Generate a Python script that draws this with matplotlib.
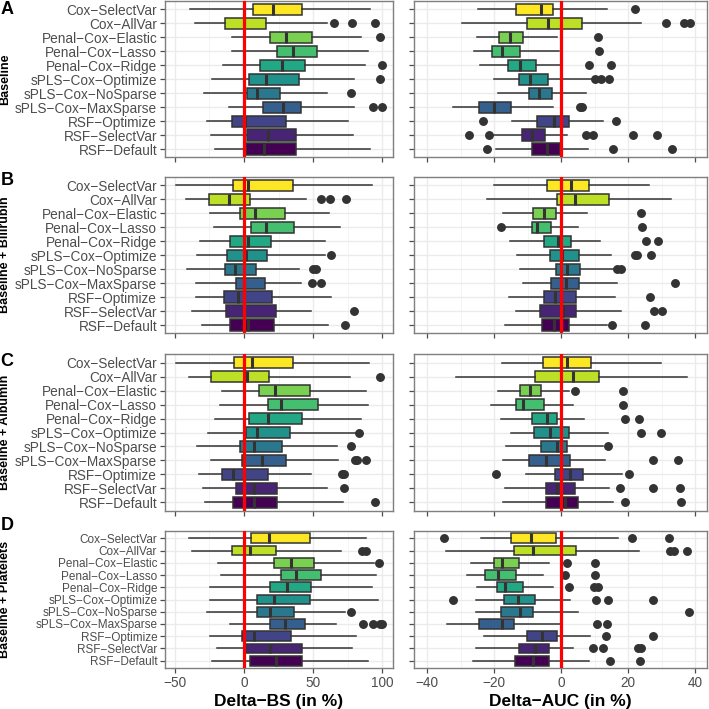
import numpy as np
import matplotlib.pyplot as plt

plt.rcParams['font.family'] = ['Liberation Sans', 'DejaVu Sans']

# methods, top to bottom
methods = ['Cox−SelectVar', 'Cox−AllVar', 'Penal−Cox−Elastic', 'Penal−Cox−Lasso',
           'Penal−Cox−Ridge', 'sPLS−Cox−Optimize', 'sPLS−Cox−NoSparse',
           'sPLS−Cox−MaxSparse', 'RSF−Optimize', 'RSF−SelectVar', 'RSF−Default']
row_titles = ['Baseline', 'Baseline + Bilirubin', 'Baseline + Albumin', 'Baseline + Platelets']
row_letters = ['A', 'B', 'C', 'D']

# box summaries per method: [whisker low, q1, median, q3, whisker high]
bs_baseline = [[-39.4, 6.5, 21, 42.3, 91.5], [-35.7, -13.8, 0.3, 16.2, 59.7],
               [-8.5, 18.6, 30.7, 49.5, 84.5], [-8.7, 24.2, 35.5, 52.9, 89.4],
               [-15.2, 11.6, 27.5, 44.4, 87.2], [-23.4, 3.6, 16.2, 40.1, 79.7],
               [-28.7, 2.4, 9.4, 26.3, 59.7], [-10.9, 13.8, 28.3, 41.5, 79.7],
               [-27, -8.7, 0.5, 30.2, 75.4], [-24.2, 1.9, 17.6, 37.4, 78.5],
               [-21.3, 1.4, 14.5, 37.4, 91]]
bs_baseline_out = [[], [65, 78, 95], [98.6], [], [100.2], [98.3], [77.5], [93, 100.2], [], [], []]

auc_baseline = [[-24.8, -13.6, -6.2, -2.4, 13.5], [-29.8, -10.2, -3.9, 6.3, 23.8],
                [-25.3, -18.6, -15.3, -11.3, -1.4], [-26, -20.6, -17.6, -12.3, -0.6],
                [-24.2, -16, -12.4, -7.7, -0.4], [-20, -12.6, -9.3, -3.9, 9],
                [-19, -9.7, -6.6, -2.7, 7.3], [-32.4, -24.6, -20, -15.1, -2.5],
                [-14.6, -7.4, -2.2, 2.2, 12.5], [-20.3, -11.6, -8.9, -5, 1.8],
                [-19.5, -8.8, -4.3, -0.4, 8.1]]
auc_baseline_out = [[22.1], [31.2, 36.6, 38.4], [10.8], [11.3], [8.2, 14.8], [10, 11.7, 14.3],
                    [], [5.6, 6.3], [-23.3, 16.3], [-27.6, -21.5, 7.5, 9.6, 21.5, 28.5],
                    [-22.3, 15.5, 32.9]]

bs_bilirubin = [[-49.5, -8, 2.9, 35.5, 92.3], [-42.3, -25.6, -10.9, 4.6, 45],
                [-24.4, -2.9, 8.2, 29.5, 61.6], [-22, 5.1, 16.2, 36, 69.8],
                [-32.1, -9.9, 2.9, 19.8, 58.5], [-33.8, -12.1, 1.7, 16.7, 58.5],
                [-41.3, -14, -6.8, 8.9, 39.9], [-35, -5.8, 0.2, 15, 41.5],
                [-35, -14.7, -4.1, 20.5, 62.6], [-37.9, -12.8, -0.3, 23.4, 48.8],
                [-30.4, -10.4, 2.9, 21.7, 61.1]]
bs_bilirubin_out = [[], [56, 62, 73.7], [], [], [], [63], [50, 52.4], [49.3, 55.6], [], [79.5], [72.9]]

auc_bilirubin = [[-20.1, -4.2, 2.8, 8.4, 26.2], [-22.1, -1.4, 4.2, 14.1, 32.6],
                 [-17.3, -8.5, -5.1, -1.7, 7.6], [-16.8, -8.9, -7.2, -3.1, 4.9],
                 [-15.2, -5.2, -0.9, 2.9, 11.5], [-13.2, -3.5, 0.1, 5.2, 14.8],
                 [-12.2, -1.7, 1.7, 5.5, 16], [-11.5, -3, 1.5, 5.4, 16.5],
                 [-15.7, -5.1, -1.8, 4.3, 15.9], [-13.5, -6.5, 0.6, 4.3, 17.8],
                 [-16.8, -5.7, -2.3, 2.3, 13.7]]
auc_bilirubin_out = [[], [], [23.7], [-18, 24.2], [25.2, 29], [22, 22.7, 26.8], [16.6, 17.7],
                     [33.9], [26.5], [27.7, 30], [15.2, 24.9]]

bs_albumin = [[-49.5, -7.2, 6, 35.5, 90.3], [-39.9, -23.9, 2.2, 17.9, 76.8],
              [-15.7, 10.6, 22.2, 47.6, 87.9], [-17.1, 17.4, 27.1, 53.6, 89.4],
              [-21.3, 3.6, 17.4, 42, 85], [-26.3, 1.2, 9.7, 33.1, 81.4],
              [-33.8, -2.9, 7.2, 27.8, 67.4], [-24.2, -1.4, 13.3, 30.7, 68.1],
              [-32.6, -15.7, -8, 17.4, 48.8], [-29.7, -5.6, 7, 23.9, 59.7],
              [-28.5, -8.2, 7, 24.2, 71.7]]
bs_albumin_out = [[], [98.6], [], [], [], [82.9], [77.3], [80.2, 81.9, 88.6], [71.2, 72.2],
                  [72.5], [94.9]]

auc_albumin = [[-17.6, -5.4, 1.6, 8.8, 29.7], [-31.4, -7.8, 3.4, 11.3, 37.4],
               [-18.8, -12.3, -9.3, -6.1, 2.3], [-21, -13.6, -11.3, -5.3, 3.6],
               [-18, -8.9, -4.4, -1.2, 6.8], [-15.1, -8.1, -3.4, 2.4, 14],
               [-16.5, -6.1, -1.4, 1.8, 12.3], [-17.3, -9.7, -4.7, 2.6, 12.9],
               [-10.5, -1.8, 2.7, 6.4, 18], [-16.7, -4.7, -1.2, 4, 14.3],
               [-17.3, -4.6, 1.1, 4.9, 15.3]]
auc_albumin_out = [[], [], [4.1, 18.5], [18.5], [19, 23.2], [23.8, 29.7], [14], [27.5, 34.8],
                   [-19.6, 20.3], [17.5, 27.5, 35.4], [19, 35.8]]

bs_platelets = [[-39.9, 5.3, 18.1, 47.6, 88.6], [-37.4, -8.7, 4.6, 23.4, 70.5],
                [-18.8, 21.5, 34.3, 50.7, 94], [-16.9, 26.6, 37.4, 55.6, 95.4],
                [-24.9, 18.6, 31.4, 48.8, 92.3], [-24.4, 9.2, 21.5, 47.6, 97.1],
                [-26.6, 9.7, 19.1, 36.2, 73], [-10.4, 19.1, 29.5, 44, 66.4],
                [-24.9, -1.4, 7.5, 34.3, 80.9], [-19.6, 1.2, 18.6, 42, 78.3],
                [-23.2, 4.1, 23.4, 42, 89.9]]
bs_platelets_out = [[], [85.7, 88.6], [97.6], [], [], [], [77.5], [86.2, 93.5, 98.3, 100],
                    [], [], []]

auc_platelets = [[-24, -14.9, -9.1, -1.7, 16.8], [-34.5, -14, -8.6, 4.3, 23.3],
                 [-27.1, -20.1, -17.6, -12.6, -3.6], [-28.1, -22.7, -19, -13.6, -5.4],
                 [-25.3, -19.2, -16.8, -11.4, -2.4], [-25.6, -17.1, -12.8, -8, 2.6],
                 [-25.6, -18.1, -12.3, -8.4, 4.9], [-34.2, -24.6, -17.6, -14, -0.4],
                 [-23.1, -10.3, -5.9, -1.4, 8.6], [-25.5, -12.6, -7.9, -3.7, 3.6],
                 [-26.3, -13.7, -8.4, -3.6, 8.4]]
auc_platelets_out = [[-34.9, 21, 32.1], [32.4, 33.6, 37.4], [1.6, 10], [1.2, 10],
                     [2.3, 9.8, 11], [-32.3, 10.3, 14, 27.5], [38.2], [10.6, 13.7],
                     [13.3, 27.5], [9.5, 12.3, 23, 23.8], [14.5, 23.5]]

bs_rows = [(bs_baseline, bs_baseline_out), (bs_bilirubin, bs_bilirubin_out),
           (bs_albumin, bs_albumin_out), (bs_platelets, bs_platelets_out)]
auc_rows = [(auc_baseline, auc_baseline_out), (auc_bilirubin, auc_bilirubin_out),
            (auc_albumin, auc_albumin_out), (auc_platelets, auc_platelets_out)]

colors = plt.cm.viridis(np.linspace(0, 1, len(methods)))[::-1]
dark = '#333333'

W = H = 709.0
# panel extents in pixels (top, bottom)
row_px = [(1, 157.4), (176.9, 333.4), (354.3, 510.7), (531, 668)]
col_px = [(165, 393), (414.3, 706.7)]
xlims = [(-57.2, 107.8), (-43.9, 43.4)]
xmajor = [[-50, 0, 50, 100], [-40, -20, 0, 20, 40]]
xminor = [[-25, 25, 75], [-30, -10, 10, 30]]
xlabels = ['Delta−BS (in %)', 'Delta−AUC (in %)']

fig = plt.figure(figsize=(W / 100, H / 100), dpi=100)


def draw_panel(ax, summary, outliers, c):
    stats = []
    for s, o in zip(summary, outliers):
        stats.append(dict(whislo=s[0], q1=s[1], med=s[2], q3=s[3], whishi=s[4], fliers=o))
    pos = np.arange(len(summary))
    bp = ax.bxp(stats, positions=pos, widths=0.8, vert=False, patch_artist=True,
                showcaps=False,
                boxprops=dict(edgecolor=dark, linewidth=1.1),
                whiskerprops=dict(color=dark, linewidth=1.1),
                medianprops=dict(color=dark, linewidth=2.2),
                flierprops=dict(marker='o', markerfacecolor=dark, markeredgecolor=dark,
                                markersize=5.4, linestyle='none'))
    for patch, col in zip(bp['boxes'], colors):
        patch.set_facecolor(col)
    ax.axvline(0, color='#ff0000', linewidth=2.3, zorder=5)
    ax.set_xlim(*xlims[c])
    ax.set_ylim(len(summary) - 0.4, -0.6)
    ax.set_xticks(xmajor[c])
    ax.set_xticks(xminor[c], minor=True)
    ax.set_yticks(pos)
    ax.grid(which='major', color='#ebebeb', linewidth=1.0)
    ax.grid(which='minor', axis='x', color='#f2f2f2', linewidth=0.6)
    ax.set_axisbelow(True)
    for sp in ax.spines.values():
        sp.set_color('#7f7f7f')
        sp.set_linewidth(1.0)
    ax.tick_params(which='major', length=3.6, width=0.9, color='#4d4d4d',
                   labelcolor='#4d4d4d', labelsize=9.8, pad=2)
    ax.tick_params(which='minor', length=0)


for r in range(4):
    top, bot = row_px[r]
    for c in range(2):
        x0, x1 = col_px[c]
        ax = fig.add_axes([x0 / W, 1 - bot / H, (x1 - x0) / W, (bot - top) / H])
        summary, outliers = (bs_rows if c == 0 else auc_rows)[r]
        draw_panel(ax, summary, outliers, c)
        if c == 0:
            # bottom row is more compressed, so its labels are a bit smaller
            ax.set_yticklabels(methods, fontsize=9.8 if r < 3 else 8.5)
        else:
            ax.set_yticklabels([])
        if r < 3:
            ax.tick_params(labelbottom=False)
        else:
            ax.set_xlabel(xlabels[c], fontsize=12.5, fontweight='bold', labelpad=3)
    fig.text(5.5 / W, 1 - (top + bot) / 2 / H, row_titles[r], rotation=90,
             ha='center', va='center', fontsize=9, fontweight='bold')

letter_tops = [1.5, 172, 353, 517]
for r in range(4):
    fig.text(0.5 / W, 1 - letter_tops[r] / H, row_letters[r], ha='left', va='top',
             fontsize=13, fontweight='bold')

fig.savefig('out.png', dpi=100)
